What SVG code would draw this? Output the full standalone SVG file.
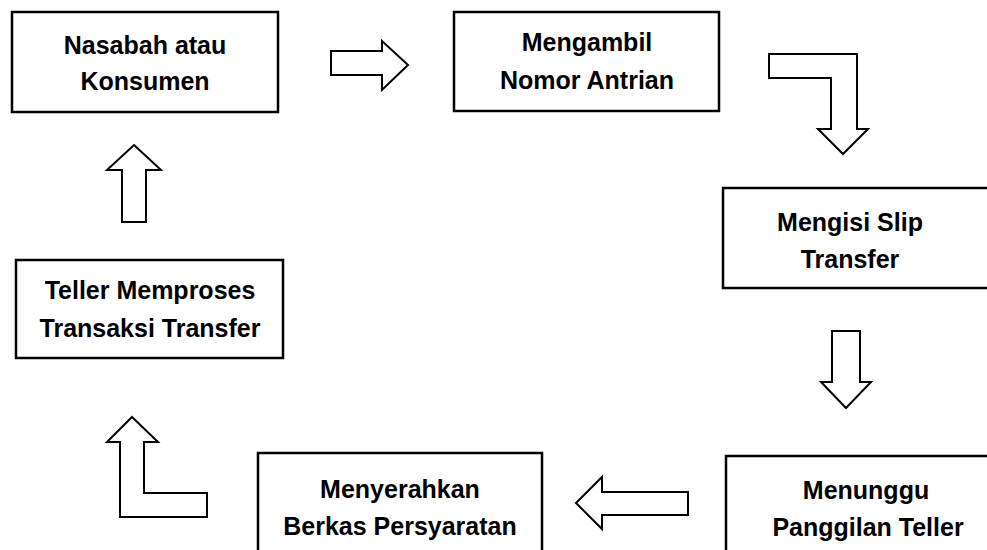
<svg xmlns="http://www.w3.org/2000/svg" width="987" height="550" viewBox="0 0 987 550">
<style>
.box{fill:#fff;stroke:#000;stroke-width:2.5}
.arr{fill:#fff;stroke:#000;stroke-width:2;stroke-linejoin:miter}
text{font-family:"Liberation Sans",Arial,sans-serif;font-weight:bold;font-size:25px;fill:#000;text-anchor:middle}
</style>
<rect width="987" height="550" fill="#fff"/>
<g id="n1"><rect class="box" x="12" y="12" width="266" height="100"/><text x="145" y="54">Nasabah atau</text><text x="145" y="90">Konsumen</text></g>
<g id="n2"><rect class="box" x="454" y="12" width="265" height="99"/><text x="587" y="51">Mengambil</text><text x="587" y="89">Nomor Antrian</text></g>
<g id="n3"><rect class="box" x="723" y="188" width="270" height="100"/><text x="850" y="231">Mengisi Slip</text><text x="850" y="268">Transfer</text></g>
<g id="n4"><rect class="box" x="726" y="456" width="270" height="100"/><text x="866" y="499">Menunggu</text><text x="868" y="536">Panggilan Teller</text></g>
<g id="n5"><rect class="box" x="258" y="453" width="284" height="104"/><text x="400" y="498">Menyerahkan</text><text x="400" y="535">Berkas Persyaratan</text></g>
<g id="n6"><rect class="box" x="16" y="260" width="267" height="98"/><text x="150" y="299">Teller Memproses</text><text x="150" y="337">Transaksi Transfer</text></g>
<g id="connectors">
<path class="arr" d="M331,51 L382,51 L382,41 L408,65 L382,90 L382,75 L331,75 Z"/>
<path class="arr" d="M769,54 L857,54 L857,129 L868,129 L843,154 L818,129 L831,129 L831,78 L769,78 Z"/>
<path class="arr" d="M832,331 L860,331 L860,382 L871,382 L846,408 L821,382 L832,382 Z"/>
<path class="arr" d="M688,492 L602,492 L602,477 L576,503 L602,529 L602,515 L688,515 Z"/>
<path class="arr" d="M132,417 L158,442 L144,442 L144,493 L207,493 L207,517 L120,517 L120,442 L107,442 Z"/>
<path class="arr" d="M134,145 L161,170 L146,170 L146,222 L122,222 L122,170 L107,170 Z"/>
</g>
</svg>
